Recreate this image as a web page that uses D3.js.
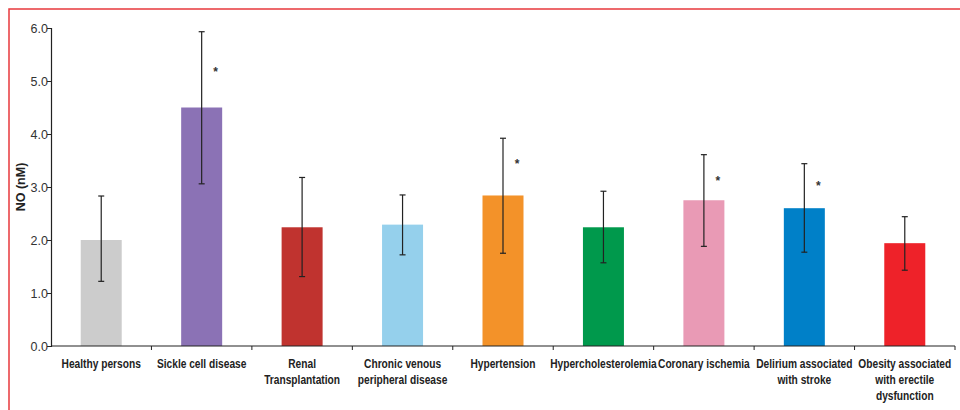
<!DOCTYPE html>
<html><head><meta charset="utf-8">
<script src="https://cdn.jsdelivr.net/npm/d3@7"></script>
<style>body{margin:0;background:#fff}svg{display:block}</style>
</head><body>
<script>
const categories = [["Healthy persons"],["Sickle cell disease"],["Renal","Transplantation"],["Chronic venous","peripheral disease"],["Hypertension"],["Hypercholesterolemia"],["Coronary ischemia"],["Delirium associated","with stroke"],["Obesity associated","with erectile","dysfunction"]];
const means = [2.0, 4.5, 2.24, 2.29, 2.84, 2.24, 2.75, 2.6, 1.94];
const errLow = [1.22, 3.06, 1.31, 1.72, 1.75, 1.57, 1.88, 1.77, 1.43];
const errHigh = [2.83, 5.93, 3.18, 2.85, 3.92, 2.92, 3.61, 3.44, 2.44];
const colors = ["#cccccc","#8b72b5","#c0332f","#95d0ec","#f39229","#00994c","#e99ab5","#0080c8","#ee2229"];
const stars = [null, 5.21, null, null, 3.48, null, 3.16, 3.05, null];
const yTicks = [0,1,2,3,4,5,6];

const W=960,H=410;
const svg=d3.select("body").append("svg").attr("width",W).attr("height",H);
svg.append("rect").attr("x",9).attr("y",9).attr("width",W).attr("height",H).attr("fill","none").attr("stroke","#e8383d").attr("stroke-width",1.5);

const x0=51,x1=955,yB=346,yT=28;
const idx=categories.map((d,i)=>i);
const x=d3.scaleBand().domain(idx).range([x0,x1]).paddingInner(0).paddingOuter(0);
const y=d3.scaleLinear().domain([0,6]).range([yB,yT]);
const bw=41;

const g=svg.append("g");
g.selectAll("rect.bar").data(idx).join("rect").attr("class","bar")
 .attr("x",i=>x(i)+x.bandwidth()/2-bw/2).attr("width",bw)
 .attr("y",i=>y(means[i])).attr("height",i=>y(0)-y(means[i])).attr("fill",i=>colors[i]);

const eb=g.append("g").attr("stroke","#222").attr("stroke-width",1.2);
idx.forEach(i=>{
  const cx=x(i)+x.bandwidth()/2;
  eb.append("line").attr("x1",cx).attr("x2",cx).attr("y1",y(errLow[i])).attr("y2",y(errHigh[i]));
  eb.append("line").attr("x1",cx-3).attr("x2",cx+3).attr("y1",y(errLow[i])).attr("y2",y(errLow[i]));
  eb.append("line").attr("x1",cx-3).attr("x2",cx+3).attr("y1",y(errHigh[i])).attr("y2",y(errHigh[i]));
  if(stars[i]!=null){
    g.append("text").attr("x",cx+14).attr("y",y(stars[i])+6).attr("text-anchor","middle")
     .attr("font-family","Liberation Sans, Arial, sans-serif").attr("font-weight","bold").attr("font-size",12).attr("fill","#333").text("*");
  }
});

// y axis
const ya=svg.append("g").attr("transform",`translate(${x0},0)`)
 .call(d3.axisLeft(y).tickValues(yTicks).tickFormat(d3.format(".1f")).tickSize(4).tickPadding(-1));
ya.select(".domain").attr("stroke","#222").attr("stroke-width",1.2);
ya.selectAll(".tick line").attr("stroke","#222");
ya.selectAll("text").attr("font-family","Liberation Sans, Arial, sans-serif").attr("font-size",12.5).attr("fill","#333").attr("dy","0.34em");

// x axis
const xa=svg.append("g").attr("transform",`translate(0,${yB})`);
xa.append("line").attr("x1",x0).attr("x2",x1).attr("y1",0).attr("y2",0).attr("stroke","#222").attr("stroke-width",1.2);
xa.selectAll("line.t").data(idx.map(i=>x(i)+x.bandwidth())).join("line").attr("class","t")
 .attr("x1",d=>d).attr("x2",d=>d).attr("y1",0).attr("y2",4).attr("stroke","#222");
idx.forEach(i=>{
  const cx=x(i)+x.bandwidth()/2;
  const t=xa.append("text").attr("transform",`translate(${cx},22) scale(0.85,1)`).attr("text-anchor","middle")
   .attr("font-family","Liberation Sans, Arial, sans-serif").attr("font-weight","bold")
   .attr("font-size",12).attr("fill","#222");
  categories[i].forEach((l,k)=>t.append("tspan").attr("x",0).attr("dy",k?16:0).text(l));
});

svg.append("text").attr("transform",`translate(21,${(yB+yT)/2}) rotate(-90)`).attr("text-anchor","middle")
 .attr("font-family","Liberation Sans, Arial, sans-serif").attr("font-weight","bold").attr("font-size",12.5).attr("fill","#222").attr("dy","0.35em").text("NO (nM)");
</script>
</body></html>
